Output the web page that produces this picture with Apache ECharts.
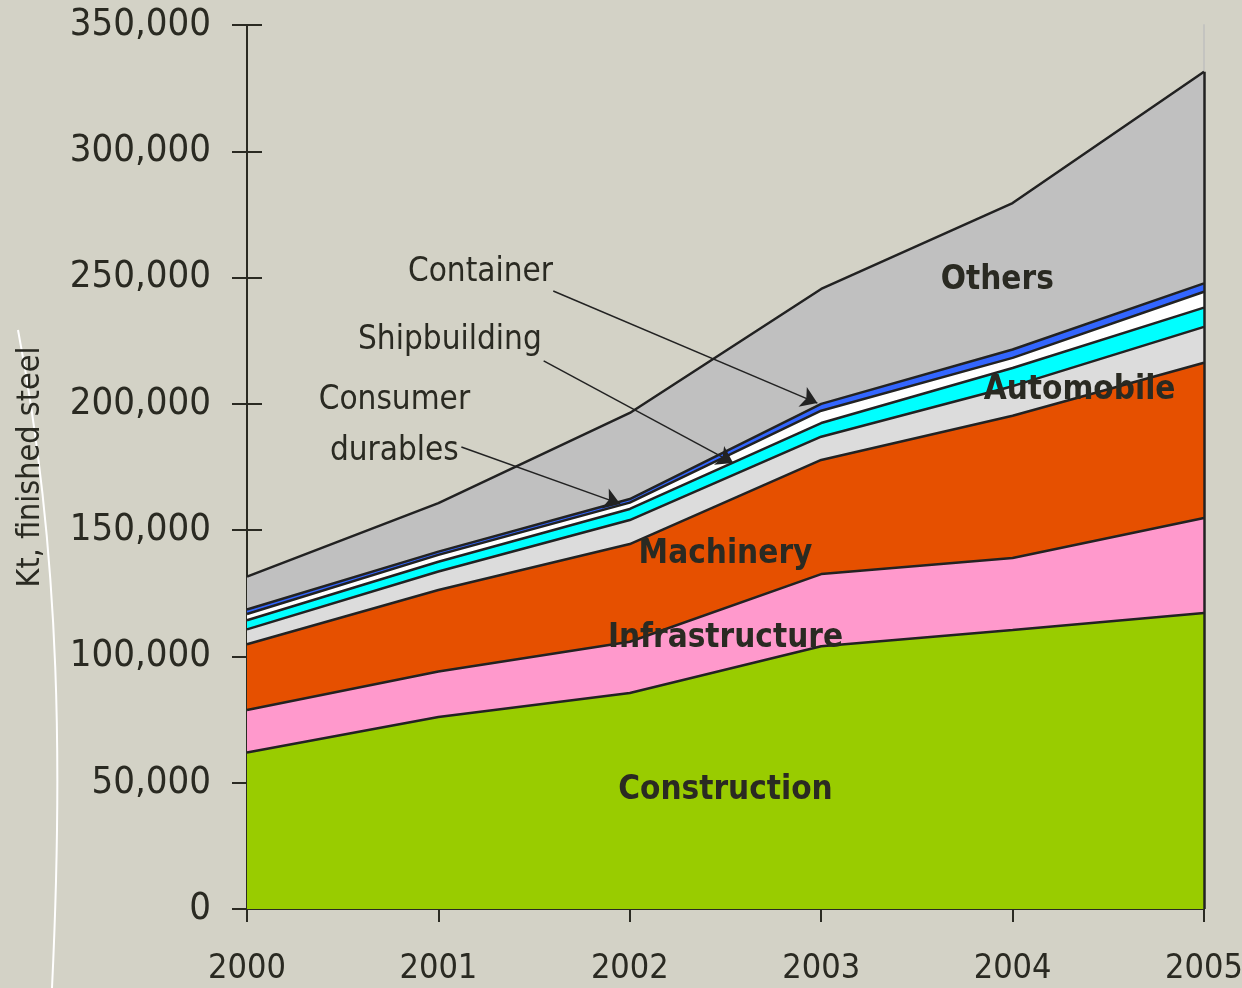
<!DOCTYPE html>
<html>
<head>
<meta charset="utf-8">
<script src="https://cdn.jsdelivr.net/npm/echarts@6/dist/echarts.min.js"></script>
<style>
  html, body { margin: 0; padding: 0; background: #d3d2c6; }
  #chart { width: 1242px; height: 988px; }
</style>
</head>
<body>
<div id="chart"></div>
<script>
// years on the x axis
const years = ['2000', '2001', '2002', '2003', '2004', '2005'];

// Kt finished steel per sector
const construction = [62000, 76000, 85500, 104000, 110500, 117200];
const infrastructure = [16800, 18000, 20300, 28600, 28500, 37600];
const machinery = [26000, 32300, 38700, 45200, 56300, 61500];
const automobile = [5900, 7300, 9500, 9200, 11700, 14200];
const consumerDurables = [3600, 3900, 4400, 5400, 7200, 7600];
const shipbuilding = [2500, 2700, 2500, 4900, 4000, 6300];
const container = [1800, 1300, 1400, 2700, 3300, 3300];
const others = [13000, 19200, 34100, 45500, 58000, 83800];

const ink = '#2a2a22';
const font = '"Liberation Sans Narrow", "Arial Narrow", "DejaVu Sans Condensed", sans-serif';

const chart = echarts.init(document.getElementById('chart'));

function area(name, values, color) {
  return {
    name: name,
    type: 'line',
    stack: 'total',
    symbol: 'none',
    data: values,
    lineStyle: { color: '#222', width: 2.5 },
    areaStyle: { color: color, opacity: 1 },
    emphasis: { disabled: true }
  };
}

// total of the last year, used for the dark right edge of the stack
const lastTotal = [construction, infrastructure, machinery, automobile,
  consumerDurables, shipbuilding, container, others]
  .reduce((s, arr) => s + arr[arr.length - 1], 0);

// in-chart labels, placed in data coordinates (x as fractional year)
const bold = { fontWeight: 'bold', fontSize: 33 };
const plain = { fontWeight: 'normal', fontSize: 33 };
const labels = [
  { text: 'Others', at: [2003.92, 249000], style: bold },
  { text: 'Automobile', at: [2004.35, 205500], style: bold },
  { text: 'Machinery', at: [2002.5, 140200], style: bold },
  { text: 'Infrastructure', at: [2002.5, 107300], style: bold },
  { text: 'Construction', at: [2002.5, 47100], style: bold },
  { text: 'Container', at: [2001.22, 252200], style: plain },
  { text: 'Shipbuilding', at: [2001.06, 225300], style: plain },
  { text: 'Consumer\ndurables', at: [2000.77, 191400], style: plain }
];
const arrows = [
  [[2001.6, 244700], [2002.98, 200300]],
  [[2001.55, 217000], [2002.54, 176600]],
  [[2001.12, 182900], [2001.95, 160400]]
];

const option = {
  backgroundColor: '#d3d2c6',
  animation: false,
  textStyle: { fontFamily: font, color: ink },
  grid: { left: 247, right: 38, top: 25, bottom: 79, outerBoundsMode: 'none', containLabel: false },
  xAxis: [
    {
      type: 'category',
      data: years,
      boundaryGap: false,
      axisLine: { show: true, lineStyle: { color: ink, width: 2 } },
      axisTick: { show: true, length: 13, lineStyle: { color: ink, width: 2 } },
      axisLabel: { fontSize: 34, color: ink, margin: 43, fontFamily: font },
      splitLine: { show: false }
    },
    {
      // hidden helper axis so annotations can sit between years
      type: 'value',
      min: 2000,
      max: 2005,
      show: false
    }
  ],
  yAxis: [
    {
      type: 'value',
      min: 0,
      max: 350000,
      interval: 50000,
      name: 'Kt, finished steel',
      nameLocation: 'middle',
      nameGap: 200,
      nameTextStyle: { fontSize: 32, color: ink, fontFamily: font },
      axisLine: { show: true, lineStyle: { color: ink, width: 2 } },
      axisTick: { show: true, length: 15, lineStyle: { color: ink, width: 2 } },
      axisLabel: {
        fontSize: 38, color: ink, margin: 36, fontFamily: font,
        formatter: v => v.toLocaleString('en-US')
      },
      splitLine: { show: false }
    },
    {
      type: 'value',
      min: 0,
      max: 350000,
      interval: 50000,
      position: 'left',
      offset: 0,
      axisLine: { show: false },
      axisTick: { show: true, inside: true, length: 15, lineStyle: { color: ink, width: 2 } },
      axisLabel: { show: false },
      splitLine: { show: false }
    },
    {
      type: 'value',
      min: 0,
      max: 350000,
      position: 'right',
      offset: 0,
      z: -1,
      axisLine: { show: true, lineStyle: { color: '#c4c4c0', width: 2 } },
      axisTick: { show: false },
      axisLabel: { show: false },
      splitLine: { show: false }
    }
  ],
  series: [
    area('Construction', construction, '#99cc00'),
    area('Infrastructure', infrastructure, '#ff99cc'),
    area('Machinery', machinery, '#e65000'),
    area('Automobile', automobile, '#dcdcdc'),
    area('Consumer durables', consumerDurables, '#00ffff'),
    area('Shipbuilding', shipbuilding, '#ffffff'),
    area('Container', container, '#3366ff'),
    area('Others', others, '#c0c0c0'),
    {
      name: 'notes',
      type: 'line',
      xAxisIndex: 1,
      yAxisIndex: 0,
      z: 5,
      data: [],
      markLine: {
        silent: true,
        symbol: ['none', 'arrow'],
        symbolSize: 16,
        label: { show: false },
        lineStyle: { color: '#222', width: 1.5, type: 'solid' },
        data: arrows.map(a => [{ coord: a[0] }, { coord: a[1] }]).concat([
          [
            { coord: [2005, 0], symbol: 'none', lineStyle: { width: 2.5 } },
            { coord: [2005, lastTotal], symbol: 'none' }
          ]
        ])
      },
      markPoint: {
        silent: true,
        symbol: 'rect',
        symbolSize: 1,
        itemStyle: { color: 'transparent' },
        data: labels.map(l => ({
          coord: l.at,
          label: {
            show: true,
            position: 'inside',
            formatter: l.text,
            color: ink,
            fontFamily: font,
            lineHeight: 51,
            align: 'center',
            fontSize: l.style.fontSize,
            fontWeight: l.style.fontWeight
          }
        }))
      }
    }
  ],
  graphic: [
    {
      type: 'bezierCurve',
      silent: true,
      z: -1,
      shape: { x1: 18, y1: 330, cpx1: 62, cpy1: 560, cpx2: 62, cpy2: 780, x2: 52, y2: 988 },
      style: { stroke: '#ffffff', lineWidth: 2, fill: null }
    }
  ]
};

chart.setOption(option);
</script>
</body>
</html>
